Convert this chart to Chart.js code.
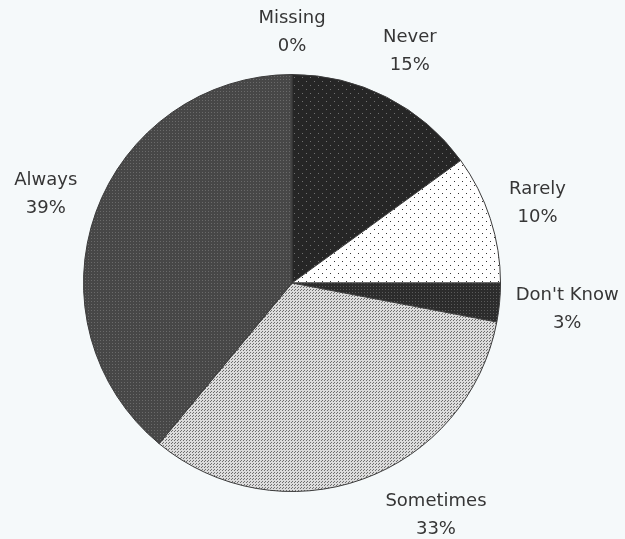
<!DOCTYPE html>
<html>
<head>
<meta charset="utf-8">
<script src="https://cdn.jsdelivr.net/npm/chart.js@4"></script>
<style>
  html, body { margin: 0; padding: 0; background: #f5f9fa; }
  #wrap { width: 625px; height: 539px; }
</style>
</head>
<body>
<div id="wrap"><canvas id="pieChart" width="625" height="539"></canvas></div>
<script>
// Chart data
const categories = ['Missing', 'Never', 'Rarely', "Don't Know", 'Sometimes', 'Always'];
const percentValues = [0, 15, 10, 3, 33, 39];
const percentLabels = ['0%', '15%', '10%', '3%', '33%', '39%'];

// Build a small repeating dot pattern
const makePattern = (base, dot, size, dots) => {
    const c = document.createElement('canvas');
    c.width = size;
    c.height = size;
    const g = c.getContext('2d');
    g.fillStyle = base;
    g.fillRect(0, 0, size, size);
    g.fillStyle = dot;
    dots.forEach(([x, y]) => g.fillRect(x, y, 1, 1));
    return g.createPattern(c, 'repeat');
};

const ctx = document.getElementById('pieChart').getContext('2d');

const fills = [
    '#ffffff',
    makePattern('#262626', '#707070', 8, [[2, 1], [6, 5]]),
    makePattern('#ffffff', '#333333', 8, [[2, 1], [6, 5]]),
    makePattern('#2c2c2c', '#5a5a5a', 3, [[1, 1]]),
    makePattern('#dcdcdc', '#6e6e6e', 3, [[1, 1], [0, 2]]),
    makePattern('#474747', '#6a6a6a', 3, [[1, 1]])
];

// Two-line labels outside each slice, nudged round the pie if they would leave the canvas
const outsideLabels = {
    id: 'outsideLabels',
    afterDraw(chart) {
        const g = chart.ctx;
        const arcs = chart.getDatasetMeta(0).data;
        g.save();
        g.font = '18px "DejaVu Sans"';
        g.fillStyle = '#363636';
        g.textAlign = 'center';
        g.textBaseline = 'middle';
        const lineH = 28;
        const h = lineH * 2;
        arcs.forEach((arc, i) => {
            const w = Math.max(g.measureText(categories[i]).width, g.measureText(percentLabels[i]).width);
            let mid = (arc.startAngle + arc.endAngle) / 2;
            let cx, cy;
            for (let k = 0; k < 200; k++) {
                const dx = Math.cos(mid);
                const dy = Math.sin(mid);
                const dist = arc.outerRadius + 14 + Math.abs(dx) * w / 2 + Math.abs(dy) * h / 2;
                cx = arc.x + dx * dist;
                cy = arc.y + dy * dist;
                if (cy + h / 2 <= chart.height + 4 && cy - h / 2 >= -6) break;
                // rotate toward the nearer horizontal
                mid += (dx >= 0 ? -1 : 1) * (dy >= 0 ? 1 : -1) * 0.01;
            }
            g.fillText(categories[i], cx, cy - lineH / 2);
            g.fillText(percentLabels[i], cx, cy + lineH / 2);
        });
        g.restore();
    }
};

new Chart(ctx, {
    type: 'pie',
    data: {
        labels: categories,
        datasets: [{
            data: percentValues,
            backgroundColor: fills,
            borderColor: '#3a3a3a',
            borderWidth: 1
        }]
    },
    options: {
        responsive: false,
        animation: false,
        layout: {
            padding: { left: 83, right: 124, top: 74, bottom: 47 }
        },
        plugins: {
            legend: { display: false },
            tooltip: { enabled: false }
        }
    },
    plugins: [outsideLabels]
});
</script>
</body>
</html>
